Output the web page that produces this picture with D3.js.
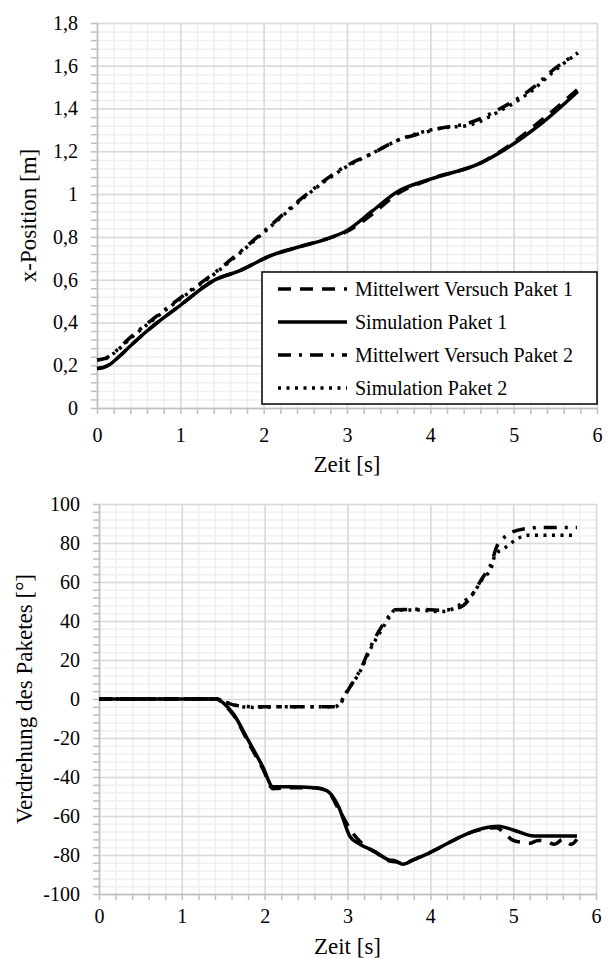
<!DOCTYPE html>
<html>
<head>
<meta charset="utf-8">
<script src="https://cdn.jsdelivr.net/npm/d3@7"></script>
<style>
  body { margin:0; background:#fff; }
</style>
</head>
<body>
<div id="chart-area"></div>
<script>
// ---- data: x-Position (top chart) ----
var tP1Exp = [0,0.08,0.16,0.25,0.4,0.6,1.0,1.42,1.7,2.1,2.44,2.75,3.0,3.3,3.6,4.0,4.6,4.9,5.3,5.77];
var xP1Exp = [0.185,0.19,0.205,0.235,0.29,0.36,0.48,0.6,0.64,0.715,0.755,0.79,0.825,0.905,1.0,1.07,1.145,1.215,1.335,1.49];
var tP1Sim = [0,0.08,0.16,0.25,0.4,0.6,1.0,1.42,1.7,2.1,2.44,2.75,3.0,3.3,3.6,4.0,4.6,4.9,5.3,5.77];
var xP1Sim = [0.185,0.19,0.205,0.235,0.29,0.36,0.48,0.6,0.64,0.715,0.755,0.79,0.83,0.92,1.01,1.07,1.145,1.21,1.32,1.48];
var tP2Exp = [0,0.1,0.2,0.4,0.7,1.0,1.42,2.0,2.44,2.7,2.96,3.3,3.6,3.9,4.15,4.44,4.84,5.24,5.47,5.77];
var xP2Exp = [0.225,0.232,0.258,0.33,0.425,0.515,0.635,0.825,0.975,1.055,1.125,1.19,1.25,1.285,1.31,1.33,1.40,1.50,1.58,1.66];
var tP2Sim = [0,0.1,0.2,0.4,0.7,1.0,1.42,2.0,2.44,2.7,2.96,3.3,3.6,3.9,4.15,4.44,4.84,5.24,5.47,5.77];
var xP2Sim = [0.225,0.23,0.255,0.325,0.42,0.51,0.63,0.82,0.97,1.05,1.12,1.19,1.25,1.29,1.31,1.32,1.39,1.49,1.57,1.66];

// ---- data: Verdrehung (bottom chart) ----
var rtP1Exp = [0,0.5,1.0,1.42,1.5,1.62,1.8,1.98,2.1,2.3,2.6,2.75,2.9,3.05,3.2,3.35,3.5,3.58,3.67,3.79,3.98,4.21,4.45,4.63,4.8,4.92,5.0,5.1,5.2,5.3,5.4,5.5,5.6,5.7,5.77];
var rP1Exp  = [0,0,0,0,-2.5,-8,-22,-36,-46,-45.5,-45.5,-47,-57,-68,-75,-79,-83,-83.5,-84.5,-82.5,-79,-74,-69,-66.8,-66,-70,-72.5,-73.5,-74,-72.5,-73,-74.5,-72,-74.5,-72];
var rtP1Sim = [0,0.5,1.0,1.42,1.5,1.62,1.8,1.98,2.1,2.3,2.6,2.75,2.89,3.03,3.15,3.32,3.5,3.58,3.67,3.79,3.98,4.21,4.45,4.63,4.82,5.01,5.25,5.77];
var rP1Sim  = [0,0,0,0,-2,-7.5,-21,-35,-45,-45,-45.5,-47,-55,-70.5,-74.5,-78,-82.5,-83,-84.8,-82.6,-79.2,-74,-69,-66.4,-65.2,-67.3,-70.3,-70.3];
var rtP2Exp = [0,0.5,1.0,1.42,1.52,1.62,1.86,2.2,2.6,2.85,2.92,3.0,3.16,3.27,3.41,3.51,3.57,3.85,4.12,4.32,4.4,4.52,4.62,4.74,4.8,4.86,4.96,5.17,5.37,5.69,5.77];
var rP2Exp  = [0,0,0,0,-1.5,-3,-4,-4,-4,-4,-2,4,15.5,26,37,43,45.8,46,45.5,46.5,48,54.5,61.5,70,78,81.5,85,87.5,88,88,88];
var rtP2Sim = [0,0.5,1.0,1.42,1.52,1.62,1.86,2.2,2.6,2.85,2.91,2.99,3.16,3.27,3.41,3.51,3.57,3.85,4.12,4.32,4.4,4.52,4.62,4.74,4.78,4.9,5.0,5.17,5.5,5.77];
var rP2Sim  = [0,0,0,0,-1.5,-3,-4.3,-4,-4,-4,-2,3.7,14.8,25,35.4,42.2,45.6,45.6,44.8,47.3,49.9,54.2,61,67.8,73.8,77.5,80.7,84,84,84];

var legendNames = ["Mittelwert Versuch Paket 1","Simulation Paket 1","Mittelwert Versuch Paket 2","Simulation Paket 2"];
var xTicks = [0,1,2,3,4,5,6];

var FONT = "'Liberation Serif', Tinos, 'DejaVu Serif', 'Noto Serif', FreeSerif, serif";

// line styles per series
var styles = [
  {dash:"13,9"},
  {dash:null},
  {dash:"13,8,3,8"},
  {dash:"3,5.5"}
];

var svg = d3.select("#chart-area").append("svg")
    .attr("width",611)
    .attr("height",958)
    .style("font-family",FONT);

function zip(t,v){ return t.map(function(d,i){ return {t:d, v:v[i]}; }); }

function styleGrid(color){
    return function(a){
        a.select(".domain").remove();
        a.selectAll("line").attr("stroke",color).attr("stroke-width",1.5);
    };
}

function styleLabels(a){
    a.attr("font-family",null).attr("font-size",null);
    a.select(".domain").remove();
    a.selectAll("text")
        .style("font-family",FONT)
        .style("font-size","20px")
        .attr("fill","#000");
}

function drawChart(cfg){
    var x = d3.scaleLinear().domain([0,6]).range([cfg.left,cfg.right]);
    var y = d3.scaleLinear().domain(cfg.yDomain).range([cfg.bottom,cfg.top]);
    var g = svg.append("g");

    var xMinor = d3.range(0,6.0001,0.2);
    var yMinor = d3.range(cfg.yDomain[0],cfg.yDomain[1]+1e-6,cfg.yMinor);

    //minor grid
    g.append("g").attr("transform","translate(0,"+cfg.bottom+")")
        .call(d3.axisBottom(x).tickValues(xMinor).tickSize(-(cfg.bottom-cfg.top)).tickFormat(""))
        .call(styleGrid("#efefef"));
    g.append("g").attr("transform","translate("+cfg.left+",0)")
        .call(d3.axisLeft(y).tickValues(yMinor).tickSize(-(cfg.right-cfg.left)).tickFormat(""))
        .call(styleGrid("#efefef"));
    //major grid
    g.append("g").attr("transform","translate(0,"+cfg.bottom+")")
        .call(d3.axisBottom(x).tickValues(xTicks).tickSize(-(cfg.bottom-cfg.top)).tickFormat(""))
        .call(styleGrid("#d9d9d9"));
    g.append("g").attr("transform","translate("+cfg.left+",0)")
        .call(d3.axisLeft(y).tickValues(cfg.yTicks).tickSize(-(cfg.right-cfg.left)).tickFormat(""))
        .call(styleGrid("#d9d9d9"));

    //axes with minor tick marks
    g.append("g").attr("transform","translate(0,"+cfg.bottom+")")
        .call(d3.axisBottom(x).tickValues(xMinor).tickSize(6).tickSizeOuter(0).tickFormat(""))
        .call(function(a){ a.selectAll("line,path").attr("stroke","#bfbfbf").attr("stroke-width",1.5); });
    g.append("g").attr("transform","translate("+cfg.left+",0)")
        .call(d3.axisLeft(y).tickValues(yMinor).tickSize(6).tickSizeOuter(0).tickFormat(""))
        .call(function(a){ a.selectAll("line,path").attr("stroke","#bfbfbf").attr("stroke-width",1.5); });

    //tick labels
    g.append("g").attr("transform","translate(0,"+cfg.bottom+")")
        .call(d3.axisBottom(x).tickValues(xTicks).tickSize(0).tickPadding(cfg.xPad).tickFormat(function(d){ return String(d); }))
        .call(styleLabels);
    g.append("g").attr("transform","translate("+cfg.left+",0)")
        .call(d3.axisLeft(y).tickValues(cfg.yTicks).tickSize(0).tickPadding(19).tickFormat(cfg.yFormat))
        .call(styleLabels);

    //series
    var line = d3.line()
        .curve(d3.curveMonotoneX)
        .x(function(d){ return x(d.t); })
        .y(function(d){ return y(d.v); });
    cfg.series.forEach(function(s,i){
        g.append("path")
            .attr("d",line(s))
            .attr("fill","none")
            .attr("stroke","#000")
            .attr("stroke-width",3.5)
            .attr("stroke-dasharray",styles[i].dash);
    });

    //axis titles
    g.append("text")
        .attr("x",(cfg.left+cfg.right)/2)
        .attr("y",cfg.titleY)
        .attr("text-anchor","middle")
        .style("font-family",FONT)
        .style("font-size","23px")
        .text("Zeit [s]");
    g.append("text")
        .attr("transform","translate("+cfg.yTitleX+","+((cfg.top+cfg.bottom)/2)+") rotate(-90)")
        .attr("text-anchor","middle")
        .style("font-family",FONT)
        .style("font-size","23px")
        .text(cfg.yTitle);
    return g;
}

var fmtComma = function(d){ return String(+d.toFixed(1)).replace(".",","); };
var fmtInt = function(d){ return String(Math.round(d)); };

drawChart({
    left:97, right:597, top:23, bottom:408,
    yDomain:[0,1.8], yMinor:0.04, yTicks:d3.range(0,1.8001,0.2).map(function(d){return +d.toFixed(1);}),
    yFormat:fmtComma, xPad:20, titleY:472, yTitleX:36,
    yTitle:"x-Position [m]",
    series:[zip(tP1Exp,xP1Exp), zip(tP1Sim,xP1Sim), zip(tP2Exp,xP2Exp), zip(tP2Sim,xP2Sim)]
});

drawChart({
    left:99, right:596, top:504, bottom:894,
    yDomain:[-100,100], yMinor:4, yTicks:d3.range(-100,101,20),
    yFormat:fmtInt, xPad:15, titleY:954, yTitleX:32,
    yTitle:"Verdrehung des Paketes [°]",
    series:[zip(rtP1Exp,rP1Exp), zip(rtP1Sim,rP1Sim), zip(rtP2Exp,rP2Exp), zip(rtP2Sim,rP2Sim)]
});

//legend (top chart)
var legend = svg.append("g").attr("transform","translate(262,272)");
legend.append("rect")
    .attr("width",335).attr("height",132)
    .attr("fill","#fff").attr("stroke","#000").attr("stroke-width",1.5);
legendNames.forEach(function(name,i){
    var row = legend.append("g").attr("transform","translate(0,"+(17+i*33)+")");
    row.append("line")
        .attr("x1",16).attr("x2",85).attr("y1",0).attr("y2",0)
        .attr("stroke","#000").attr("stroke-width",3.5)
        .attr("stroke-dasharray",styles[i].dash);
    row.append("text")
        .attr("x",93).attr("y",0).attr("dy","0.35em")
        .style("font-family",FONT)
        .style("font-size","20px")
        .text(name);
});
</script>
</body>
</html>
